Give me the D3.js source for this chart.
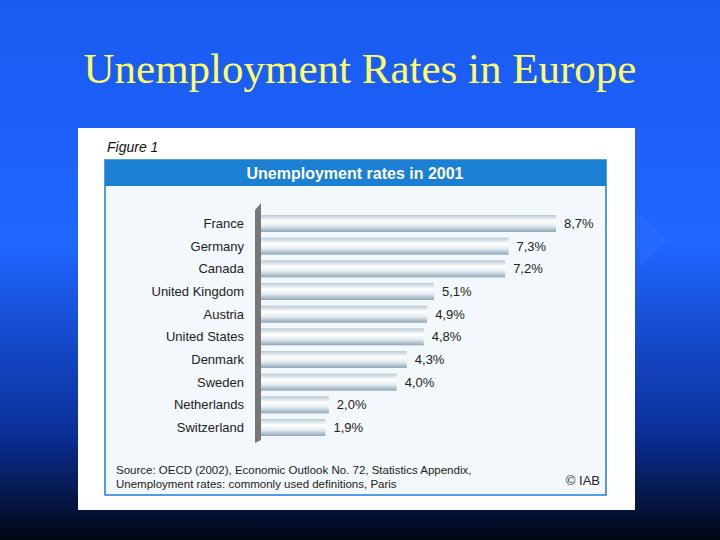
<!DOCTYPE html><html><head><meta charset="utf-8">
<script src="https://cdn.jsdelivr.net/npm/d3@7"></script>
<style>body{margin:0;}svg{display:block}</style></head><body>
<script>
const countries=["France","Germany","Canada","United Kingdom","Austria","United States","Denmark","Sweden","Netherlands","Switzerland"];
const rates=[8.7,7.3,7.2,5.1,4.9,4.8,4.3,4.0,2.0,1.9];
const title="Unemployment Rates in Europe";
const svg=d3.select("body").append("svg").attr("width",720).attr("height",540);
const defs=svg.append("defs");
const bg=defs.append("linearGradient").attr("id","bg").attr("x1",0).attr("y1",0).attr("x2",0).attr("y2",1);
[[0,"#1a5af0"],[0.45,"#1f66ff"],[0.8,"#0b2f9a"],[1,"#020714"]].forEach(s=>bg.append("stop").attr("offset",s[0]).attr("stop-color",s[1]));
const bar=defs.append("linearGradient").attr("id","bar").attr("x1",0).attr("y1",0).attr("x2",0).attr("y2",1);
[[0,"#b8cad6"],[0.35,"#ffffff"],[0.65,"#e4ecf2"],[1,"#8fa6b6"]].forEach(s=>bar.append("stop").attr("offset",s[0]).attr("stop-color",s[1]));
svg.append("rect").attr("width",720).attr("height",540).attr("fill","url(#bg)");
svg.append("polygon").attr("points","640,214 668,240 640,266").attr("fill","#2a6cff").attr("opacity",0.6);
svg.append("text").attr("x",360).attr("y",83).attr("text-anchor","middle").attr("font-family","Liberation Serif").attr("font-size",43).attr("fill","#ffff66").text(title);
svg.append("rect").attr("x",78).attr("y",128).attr("width",557).attr("height",382).attr("fill","#ffffff");
svg.append("text").attr("x",107).attr("y",152).attr("font-family","Liberation Sans").attr("font-style","italic").attr("font-size",14).attr("fill","#111").text("Figure 1");
svg.append("rect").attr("x",105).attr("y",160).attr("width",501).attr("height",335).attr("fill","#f3f8fc").attr("stroke","#1b7fd4").attr("stroke-width",1.5);
svg.append("rect").attr("x",105).attr("y",160).attr("width",501).attr("height",26).attr("fill","#1b7fd4");
svg.append("text").attr("x",355).attr("y",179).attr("text-anchor","middle").attr("font-family","Liberation Sans").attr("font-weight","bold").attr("font-size",16).attr("fill","#fff").text("Unemployment rates in 2001");
const x=d3.scaleLinear().domain([0,8.7]).range([261,556]);
const y=d3.scaleBand().domain(countries).range([215,436]).paddingInner(0.25);
svg.append("polygon").attr("points","255,210 261,203 261,440 255,443").attr("fill","#777");
const g=svg.selectAll("g.r").data(countries).enter().append("g");
g.append("rect").attr("x",x(0)).attr("y",d=>y(d)).attr("width",(d,i)=>x(rates[i])-x(0)).attr("height",y.bandwidth()).attr("fill","url(#bar)");
g.append("text").attr("x",244).attr("y",d=>y(d)+y.bandwidth()/2+4.5).attr("text-anchor","end").attr("font-family","Liberation Sans").attr("font-size",13).attr("fill","#222").text(d=>d);
g.append("text").attr("x",(d,i)=>x(rates[i])+8).attr("y",d=>y(d)+y.bandwidth()/2+4.5).attr("font-family","Liberation Sans").attr("font-size",13).attr("fill","#222").text((d,i)=>rates[i].toFixed(1).replace(".",",")+"%");
svg.append("text").attr("x",116).attr("y",474).attr("font-family","Liberation Sans").attr("font-size",11.5).attr("fill","#222").text("Source: OECD (2002), Economic Outlook No. 72, Statistics Appendix,");
svg.append("text").attr("x",116).attr("y",488).attr("font-family","Liberation Sans").attr("font-size",11.5).attr("fill","#222").text("Unemployment rates: commonly used definitions, Paris");
svg.append("text").attr("x",600).attr("y",485).attr("text-anchor","end").attr("font-family","Liberation Sans").attr("font-size",13).attr("fill","#222").text("© IAB");
</script></body></html>
